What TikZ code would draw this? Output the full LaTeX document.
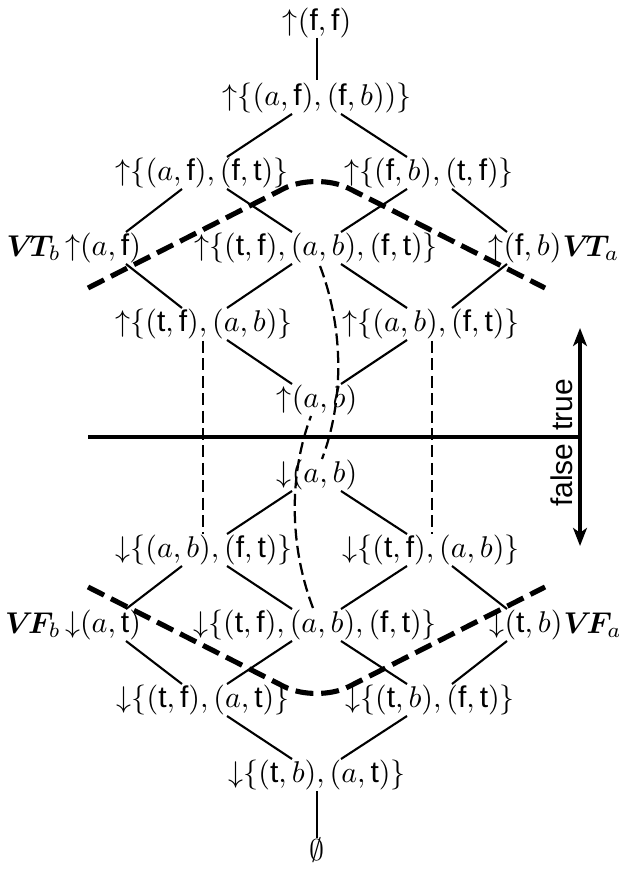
\documentclass[tikz,border=0pt]{standalone}
\usepackage{fontspec}
\setsansfont{Liberation Sans}
\usepackage{bm}
\usepackage{tikz}
\usetikzlibrary{positioning,arrows.meta,calc}
\newcommand{\fv}{\textsf{f}}
\newcommand{\tv}{\textsf{t}}
\newcommand{\up}{\mathord{\uparrow}}
\newcommand{\dn}{\mathord{\downarrow}}
\newcommand{\vlab}[2]{\bm{V}\mkern-3mu\bm{#1}_{#2}}

\begin{document}
\begin{tikzpicture}[x=0.3333pt, y=-0.3333pt,
    lbl/.style={inner sep=0.5pt},
    side/.style={inner sep=0pt},
    hasse/.style={line width=0.7pt},
    vcut/.style={line width=1.7pt, dash pattern=on 6pt off 2.6pt, rounded corners=12pt},
    order/.style={line width=0.75pt, dash pattern=on 4pt off 1.8pt},
    >={Stealth[length=6pt,width=4.6pt,inset=1.6pt]}]
    \useasboundingbox (0,0) rectangle (618,869);

    % Upper half
    \node[lbl] (top) at (317,23) {$\up(\fv,\fv)$};
    \node[lbl] (t1) at (317,98) {$\up\{(a,\fv),(\fv,b))\}$};
    \node[lbl] (t2l) at (202,173) {$\up\{(a,\fv),(\fv,\tv)\}$};
    \node[lbl] (t2r) at (429,173) {$\up\{(\fv,b),(\tv,\fv)\}$};
    \node[side] (t3l) at (103,248) {$\up(a,\fv)$};
    \node[lbl] (t3c) at (316,248) {$\up\{(\tv,\fv),(a,b),(\fv,\tv)\}$};
    \node[side] (t3r) at (525,248) {$\up(\fv,b)$};
    \node[side, left=1pt of t3l] (vtb) {$\vlab{T}{b}$};
    \node[side, right=0pt of t3r] (vta) {$\vlab{T}{a}$};
    \node[lbl] (t4l) at (204,324) {$\up\{(\tv,\fv),(a,b)\}$};
    \node[lbl] (t4r) at (431,324) {$\up\{(a,b),(\fv,\tv)\}$};
    \node[lbl] (t5) at (317,400) {$\up(a,b)$};

    % Lower half
    \node[lbl] (f5) at (317,475) {$\dn(a,b)$};
    \node[lbl] (f4l) at (204,550) {$\dn\{(a,b),(\fv,\tv)\}$};
    \node[lbl] (f4r) at (431,550) {$\dn\{(\tv,\fv),(a,b)\}$};
    \node[side] (f3l) at (103,625) {$\dn(a,\tv)$};
    \node[lbl] (f3c) at (315,625) {$\dn\{(\tv,\fv),(a,b),(\fv,\tv)\}$};
    \node[side] (f3r) at (526,625) {$\dn(\tv,b)$};
    \node[side, left=1pt of f3l] (vfb) {$\vlab{F}{b}$};
    \node[side, right=0pt of f3r] (vfa) {$\vlab{F}{a}$};
    \node[lbl] (f2l) at (203,700) {$\dn\{(\tv,\fv),(a,\tv)\}$};
    \node[lbl] (f2r) at (430,700) {$\dn\{(\tv,b),(\fv,\tv)\}$};
    \node[lbl] (f1) at (317,775) {$\dn\{(\tv,b),(a,\tv)\}$};
    \node[lbl] (bot) at (317,850) {$\emptyset$};

    % Order edges, upper half
    \draw[hasse] ($(top)+(0,15)$) -- ($(t1)+(0,-18)$);
    \draw[hasse] ($(t1)+(-25,16)$) -- ($(t2l)+(25,-16)$);
    \draw[hasse] ($(t1)+(24,16)$) -- ($(t2r)+(-22,-16)$);
    \draw[hasse] ($(t2l)+(-20,16)$) -- ($(t3l)+(23,-16)$);
    \draw[hasse] ($(t2l)+(25,16)$) -- ($(t3c)+(-24,-16)$);
    \draw[hasse] ($(t2r)+(-22,16)$) -- ($(t3c)+(25,-16)$);
    \draw[hasse] ($(t2r)+(23,16)$) -- ($(t3r)+(-18,-16)$);
    \draw[hasse] ($(t3l)+(23,16)$) -- ($(t4l)+(-22,-16)$);
    \draw[hasse] ($(t3c)+(-24,16)$) -- ($(t4l)+(23,-16)$);
    \draw[hasse] ($(t3c)+(25,16)$) -- ($(t4r)+(-24,-16)$);
    \draw[hasse] ($(t3r)+(-18,16)$) -- ($(t4r)+(21,-16)$);
    \draw[hasse] ($(t4l)+(23,16)$) -- ($(t5)+(-25,-16)$);
    \draw[hasse] ($(t4r)+(-24,16)$) -- ($(t5)+(24,-16)$);

    % Order edges, lower half
    \draw[hasse] ($(f5)+(-25,16)$) -- ($(f4l)+(23,-16)$);
    \draw[hasse] ($(f5)+(24,16)$) -- ($(f4r)+(-24,-16)$);
    \draw[hasse] ($(f4l)+(-22,16)$) -- ($(f3l)+(23,-16)$);
    \draw[hasse] ($(f4l)+(23,16)$) -- ($(f3c)+(-23,-16)$);
    \draw[hasse] ($(f4r)+(-24,16)$) -- ($(f3c)+(26,-16)$);
    \draw[hasse] ($(f4r)+(21,16)$) -- ($(f3r)+(-19,-16)$);
    \draw[hasse] ($(f3l)+(23,16)$) -- ($(f2l)+(-21,-16)$);
    \draw[hasse] ($(f3c)+(-23,16)$) -- ($(f2l)+(24,-16)$);
    \draw[hasse] ($(f3c)+(26,16)$) -- ($(f2r)+(-23,-16)$);
    \draw[hasse] ($(f3r)+(-19,16)$) -- ($(f2r)+(22,-16)$);
    \draw[hasse] ($(f2l)+(24,16)$) -- ($(f1)+(-25,-16)$);
    \draw[hasse] ($(f2r)+(-23,16)$) -- ($(f1)+(24,-16)$);
    \draw[hasse] ($(f1)+(0,16)$) -- ($(bot)+(0,-12)$);

    % Dashed relations
    \draw[order] ($(t4l)+(-1,17)$) -- ($(f4l)+(-1,-16)$);
    \draw[order] ($(t4r)+(1,17)$) -- ($(f4r)+(1,-16)$);
    \draw[order] ($(t3c)+(4,18)$) .. controls +(24,63) and +(22,-58) .. ($(f5)+(5,-16)$);
    \draw[order] ($(f3c)+(-2,-17)$) .. controls +(-24,-63) and +(-22,58) .. ($(t5)+(-6,16)$);

    % True / false split
    \coordinate (lft) at (88,437);
    \coordinate (mid) at (580,437);
    \coordinate (tp) at (580,328);
    \coordinate (fp) at (580,546);
    \draw[line width=1.5pt] (lft) -- (mid);
    \draw[<->, line width=1.5pt] (fp) -- (tp);
    \node[rotate=90, anchor=south west, inner sep=0pt, font=\sffamily] (tr) at ($(mid)+(-7,-6)$) {true};
    \node[rotate=90, anchor=south east, inner sep=0pt, font=\sffamily] (fl) at ($(mid)+(-7,6)$) {false};

    % VT and VF borders
    \coordinate (vtl) at (88,288);
    \coordinate (vtm) at (316.5,172);
    \coordinate (vtr) at (545,288);
    \draw[vcut] (vtl) -- (vtm) -- (vtr);
    \coordinate (vfl) at (88,587);
    \coordinate (vfm) at (316.5,703);
    \coordinate (vfr) at (545,587);
    \draw[vcut] (vfl) -- (vfm) -- (vfr);
\end{tikzpicture}
\end{document}
